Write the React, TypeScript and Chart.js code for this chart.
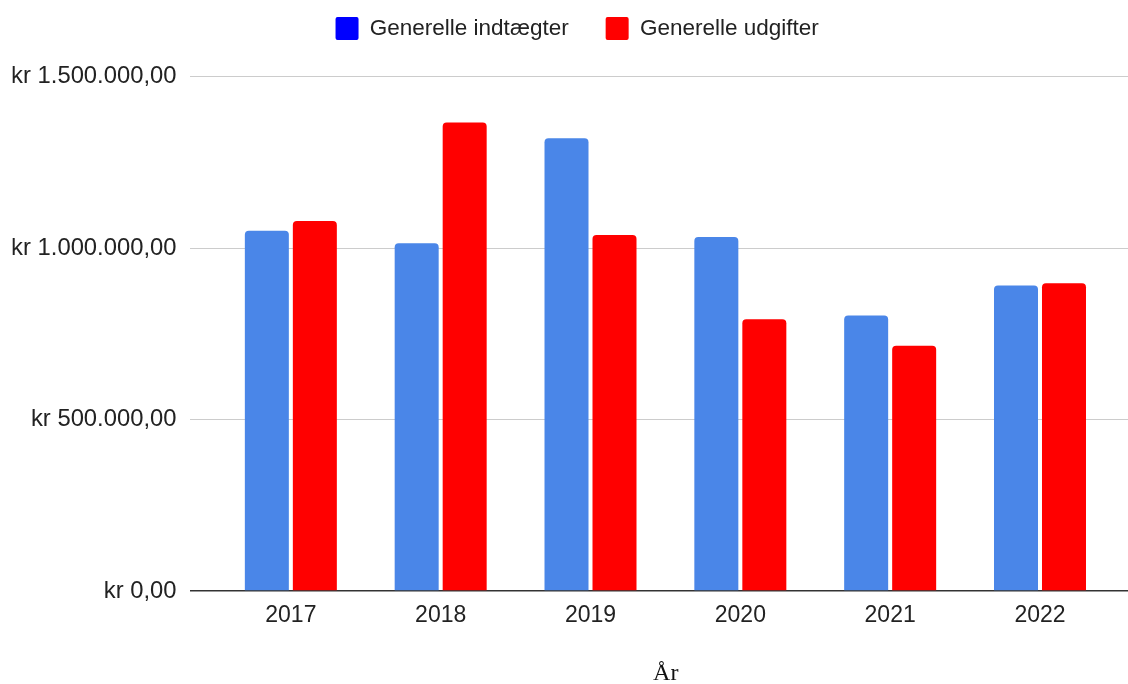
import { useEffect, useRef } from 'react';
import { Chart, registerables } from 'chart.js';

Chart.register(...registerables);

const years = ['2017', '2018', '2019', '2020', '2021', '2022'];
const incomes = [1050000, 1014000, 1320000, 1032000, 803000, 891000];
const expenses = [1079000, 1366000, 1038000, 792000, 715000, 897000];
const yTicks = [0, 500000, 1000000, 1500000];
const seriesNames = ['Generelle indtægter', 'Generelle udgifter'];
const barColors = ['#4a86e8', '#ff0000'];
const legendColors = ['#0000ff', '#ff0000'];
const xTitle = 'År';

const SANS = '"Liberation Sans", Arial, Helvetica, sans-serif';
const SERIF = '"Liberation Serif", "Times New Roman", serif';

function formatKr(v: number): string {
  const int = Math.round(v).toString().replace(/\B(?=(\d{3})+(?!\d))/g, '.');
  return 'kr ' + int + ',00';
}

const legendSpacer = {
  id: 'legendSpacer',
  beforeLayout(chart: any) {
    const legend = chart.legend;
    if (legend && !legend.__patched) {
      const orig = legend.fit;
      legend.fit = function () {
        orig.call(this);
        this.height = 96.5;
      };
      legend.__patched = true;
    }
  },
};

export default function App() {
  const ref = useRef<HTMLCanvasElement | null>(null);

  useEffect(() => {
    document.body.style.margin = '0';
    const canvas = ref.current;
    if (!canvas) return;
    const chart = new Chart(canvas, {
      type: 'bar',
      data: {
        datasets: [
          {
            label: seriesNames[0],
            data: incomes.map((v, i) => ({ x: i, y: v })),
            backgroundColor: barColors[0],
            borderRadius: 4,
            categoryPercentage: 0.6407,
            barPercentage: 0.9167,
          },
          {
            label: seriesNames[1],
            data: expenses.map((v, i) => ({ x: i, y: v })),
            backgroundColor: barColors[1],
            borderRadius: 4,
            categoryPercentage: 0.6407,
            barPercentage: 0.9167,
          },
        ],
      },
      options: {
        animation: false,
        responsive: false,
        maintainAspectRatio: false,
        layout: { padding: { top: -20, left: 12.3, right: 0, bottom: 0 } },
        plugins: {
          tooltip: { enabled: false },
          legend: {
            position: 'top',
            labels: {
              boxWidth: 23,
              boxHeight: 23,
              padding: 37,
              color: '#222222',
              font: { family: SANS, size: 22.5 },
              useBorderRadius: true,
              borderRadius: 2,
              generateLabels: (c: any) => {
                const items = (Chart.defaults as any).plugins.legend.labels.generateLabels(c);
                items.forEach((it: any, i: number) => {
                  it.fillStyle = legendColors[i];
                  it.strokeStyle = legendColors[i];
                  it.lineWidth = 0;
                });
                return items;
              },
            },
          },
        },
        scales: {
          x: {
            type: 'linear',
            offset: false,
            min: -0.6764,
            max: 5.6808,
            grid: { display: false, offset: false },
            border: { display: false },
            afterBuildTicks: (s: any) => {
              s.ticks = years.map((_, i) => ({ value: i }));
            },
            afterFit: (s: any) => {
              s.height = 93;
            },
            ticks: {
              autoSkip: false,
              maxRotation: 0,
              padding: 3,
              color: '#222222',
              font: { family: SANS, size: 23 },
              callback: (v: any) => years[Number(v)] ?? '',
            },
            title: {
              display: true,
              text: xTitle,
              color: '#111111',
              padding: 0,
              font: { family: SERIF, size: 24, lineHeight: 0.86 },
            },
          },
          y: {
            min: 0,
            max: 1500000,
            afterBuildTicks: (s: any) => {
              s.ticks = yTicks.map((v) => ({ value: v }));
            },
            afterFit: (s: any) => {
              s.width = 177.2;
            },
            border: { display: false },
            grid: {
              drawTicks: false,
              color: (ctx: any) => (ctx.tick && ctx.tick.value === 0 ? '#333333' : '#cccccc'),
              lineWidth: (ctx: any) => (ctx.tick && ctx.tick.value === 0 ? 1.6 : 1),
            },
            ticks: {
              padding: 13,
              color: '#222222',
              font: { family: SANS, size: 23.8 },
              callback: (v: any) => formatKr(Number(v)),
            },
          },
        },
      } as any,
      plugins: [legendSpacer],
    });
    return () => chart.destroy();
  }, []);

  return (
    <div style={{ width: 1128, height: 684, overflow: 'hidden', position: 'relative' }}>
      <canvas ref={ref} width={1142} height={684} style={{ width: 1142, height: 684, display: 'block' }} />
    </div>
  );
}
